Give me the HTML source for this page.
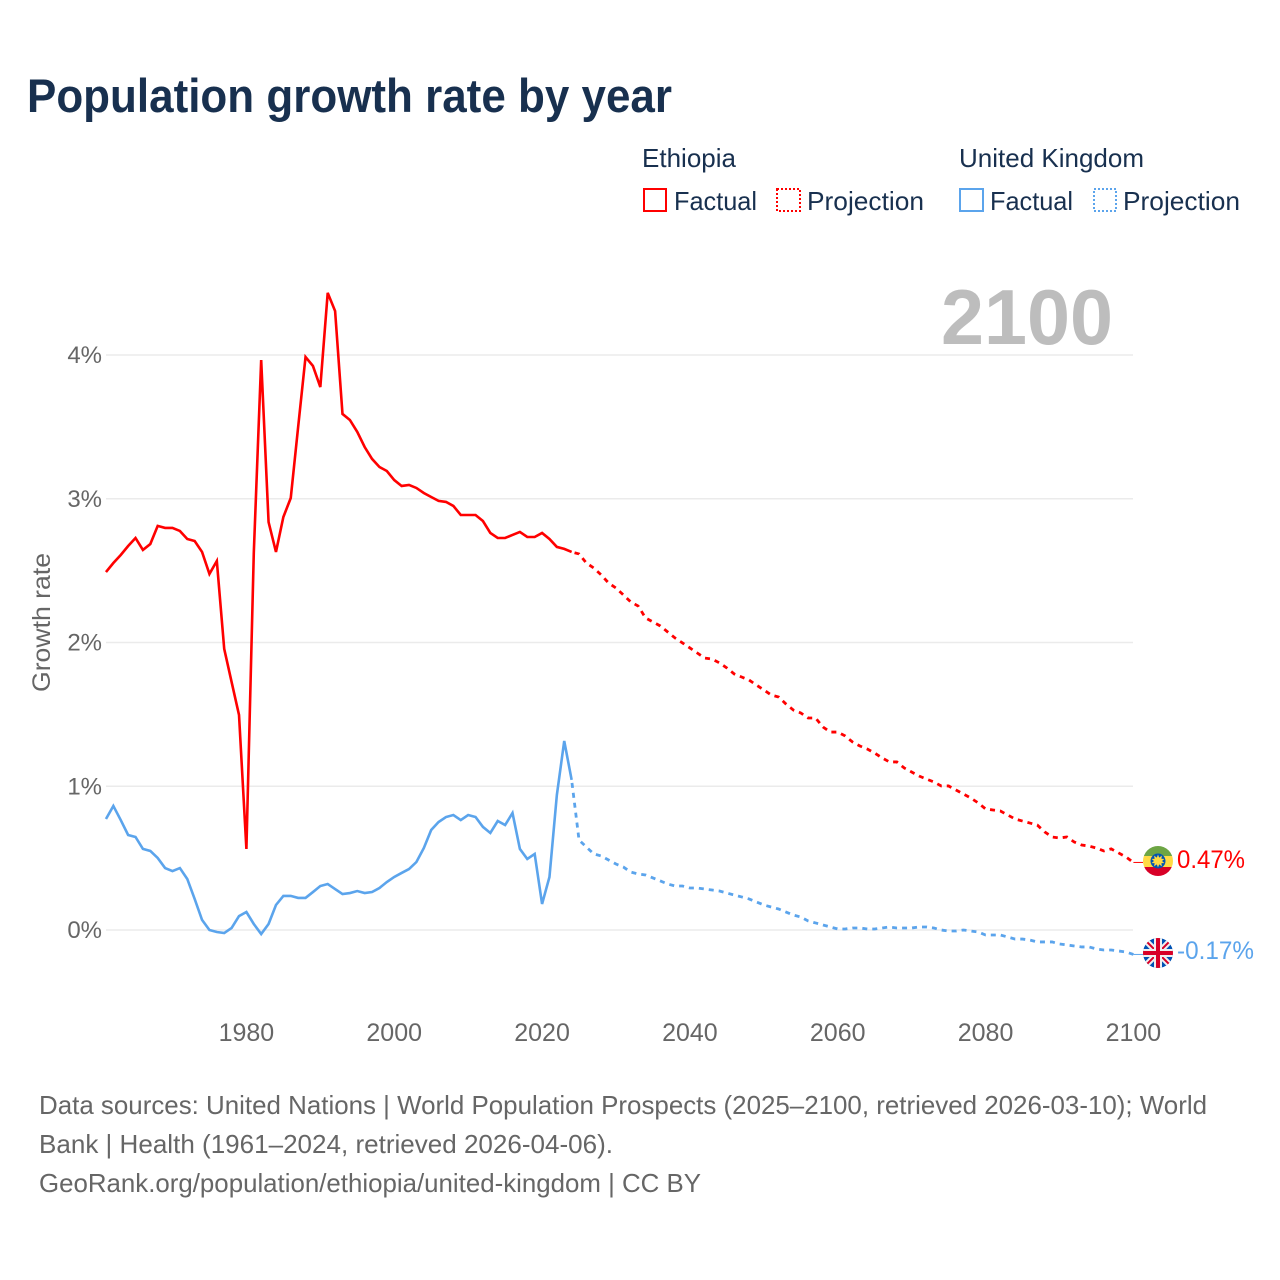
<!DOCTYPE html>
<html lang="en">
<head>
<meta charset="utf-8">
<title>Population growth rate by year</title>
<style>
html,body{margin:0;padding:0;background:#fff;width:1280px;height:1280px;overflow:hidden}
svg{display:block}
text{font-family:"Liberation Sans",sans-serif}
</style>
</head>
<body>
<svg id="chart" xmlns="http://www.w3.org/2000/svg" width="1280" height="1280" viewBox="0 0 1280 1280">
  <rect x="0" y="0" width="1280" height="1280" fill="#fff"/>
  <text x="27" y="112" font-size="47" font-weight="700" fill="#18304f" textLength="645" lengthAdjust="spacingAndGlyphs">Population growth rate by year</text>

  <g font-size="26" fill="#18304f">
    <text x="642" y="167" textLength="94" lengthAdjust="spacingAndGlyphs">Ethiopia</text>
    <rect x="644" y="189" width="22" height="22" fill="none" stroke="#ff0000" stroke-width="2"/>
    <text x="674" y="210" textLength="83" lengthAdjust="spacingAndGlyphs">Factual</text>
    <rect x="777" y="189" width="23" height="22" fill="none" stroke="#ff0000" stroke-width="2" stroke-dasharray="2 2"/>
    <text x="807" y="210" textLength="117" lengthAdjust="spacingAndGlyphs">Projection</text>
    <text x="959" y="167" textLength="185" lengthAdjust="spacingAndGlyphs">United Kingdom</text>
    <rect x="960" y="189" width="23" height="22" fill="none" stroke="#5ba4ec" stroke-width="2"/>
    <text x="990" y="210" textLength="83" lengthAdjust="spacingAndGlyphs">Factual</text>
    <rect x="1094" y="189" width="22" height="22" fill="none" stroke="#5ba4ec" stroke-width="2" stroke-dasharray="2 2"/>
    <text x="1123" y="210" textLength="117" lengthAdjust="spacingAndGlyphs">Projection</text>
  </g>

  <g id="grid"></g>
  <g id="ytick-labels"></g>
  <g id="xtick-labels"></g>
  <text transform="translate(50,692) rotate(-90)" font-size="25" fill="#666" textLength="139" lengthAdjust="spacingAndGlyphs">Growth rate</text>

  <text x="941" y="344" font-size="78" font-weight="700" fill="#bdbdbd" textLength="172" lengthAdjust="spacingAndGlyphs">2100</text>

  <g id="series"></g>

  <defs>
    <clipPath id="clip-et"><circle cx="1158" cy="861" r="15"/></clipPath>
    <clipPath id="clip-uk"><circle cx="1158" cy="953" r="15"/></clipPath>
  </defs>

  <g clip-path="url(#clip-et)">
    <rect x="1143" y="846" width="30" height="10" fill="#6da544"/>
    <rect x="1143" y="856" width="30" height="11" fill="#ffda44"/>
    <rect x="1143" y="867" width="30" height="9" fill="#d80027"/>
    <circle cx="1158" cy="861" r="7.5" fill="#0052b4"/>
    <polygon points="1158,854.5 1159.2,857.6 1161.9,855.6 1161.4,858.9 1164.5,858.9 1162,861 1164.5,863.1 1161.4,863.1 1161.9,866.4 1159.2,864.4 1158,867.5 1156.8,864.4 1154.1,866.4 1154.6,863.1 1151.5,863.1 1154,861 1151.5,858.9 1154.6,858.9 1154.1,855.6 1156.8,857.6" fill="#ffda44"/>
  </g>
  <g clip-path="url(#clip-uk)">
    <rect x="1143" y="938" width="30" height="30" fill="#0052b4"/>
    <path d="M1143 938L1173 968M1173 938L1143 968" stroke="#f0f0f0" stroke-width="6"/>
    <path d="M1143 938L1173 968M1173 938L1143 968" stroke="#d80027" stroke-width="2"/>
    <rect x="1143" y="949" width="30" height="8" fill="#f0f0f0"/>
    <rect x="1154" y="938" width="8" height="30" fill="#f0f0f0"/>
    <rect x="1143" y="951" width="30" height="4" fill="#d80027"/>
    <rect x="1156" y="938" width="4" height="30" fill="#d80027"/>
  </g>

  <text x="1177" y="868" font-size="25" fill="#ff0000" textLength="68" lengthAdjust="spacingAndGlyphs">0.47%</text>
  <text x="1177" y="959" font-size="25" fill="#5ba4ec" textLength="77" lengthAdjust="spacingAndGlyphs">-0.17%</text>

  <g font-size="26" fill="#666">
    <text x="39" y="1114" textLength="1168" lengthAdjust="spacingAndGlyphs">Data sources: United Nations | World Population Prospects (2025–2100, retrieved 2026-03-10); World</text>
    <text x="39" y="1153" textLength="574" lengthAdjust="spacingAndGlyphs">Bank | Health (1961–2024, retrieved 2026-04-06).</text>
    <text x="39" y="1192" textLength="662" lengthAdjust="spacingAndGlyphs">GeoRank.org/population/ethiopia/united-kingdom | CC BY</text>
  </g>
</svg>
<script>
var firstYear = 1961;
var lastFactualYear = 2024;
var yTicks = [0, 1, 2, 3, 4];
var xTicks = [1980, 2000, 2020, 2040, 2060, 2080, 2100];

var ethiopiaFactual = [
2.49,2.553,2.609,2.671,2.727,2.644,2.685,2.811,2.797,2.797,
2.776,2.72,2.706,2.63,2.477,2.567,1.955,1.725,1.496,0.564,
2.623,3.965,2.838,2.63,2.873,3.005,3.499,3.986,3.924,3.777,
4.432,4.306,3.59,3.548,3.465,3.36,3.277,3.221,3.193,3.13,
3.089,3.096,3.075,3.04,3.012,2.985,2.978,2.95,2.887,2.887,
2.887,2.845,2.762,2.727,2.727,2.748,2.769,2.734,2.734,2.762,
2.72,2.665,2.651,2.63];

var ethiopiaProjection = [
2.616,2.553,2.518,2.47,2.414,2.379,2.331,2.282,2.254,2.171,
2.143,2.115,2.073,2.031,1.997,1.962,1.927,1.892,1.885,1.858,
1.823,1.781,1.76,1.739,1.704,1.67,1.635,1.621,1.572,1.53,
1.51,1.475,1.475,1.412,1.377,1.377,1.35,1.308,1.28,1.259,
1.231,1.197,1.169,1.169,1.127,1.099,1.071,1.05,1.03,1.002,
1.002,0.974,0.946,0.918,0.884,0.842,0.835,0.828,0.8,0.772,
0.758,0.744,0.73,0.682,0.647,0.64,0.647,0.612,0.591,0.584,
0.57,0.55,0.564,0.536,0.508,0.47];

var ukFactual = [
0.772,0.863,0.765,0.661,0.647,0.564,0.55,0.501,0.431,0.41,
0.431,0.355,0.216,0.07,0,-0.014,-0.021,0.014,0.097,0.125,
0.042,-0.028,0.042,0.174,0.237,0.237,0.223,0.223,0.264,0.306,
0.32,0.285,0.25,0.257,0.271,0.257,0.264,0.292,0.334,0.369,
0.397,0.424,0.473,0.57,0.696,0.751,0.786,0.8,0.765,0.8,
0.786,0.717,0.675,0.758,0.73,0.814,0.564,0.494,0.529,0.181,
0.369,0.939,1.315,1.044];

var ukProjection = [
0.626,0.577,0.529,0.515,0.487,0.459,0.438,0.403,0.39,0.383,
0.362,0.341,0.32,0.306,0.306,0.292,0.292,0.285,0.278,0.271,
0.257,0.243,0.23,0.216,0.195,0.174,0.16,0.146,0.125,0.104,
0.09,0.063,0.049,0.035,0.021,0.007,0.007,0.014,0.014,0.007,
0.007,0.014,0.021,0.014,0.014,0.014,0.021,0.021,0.014,0,
-0.007,-0.007,0,-0.007,-0.014,-0.035,-0.035,-0.035,-0.049,-0.063,
-0.063,-0.07,-0.083,-0.083,-0.083,-0.097,-0.104,-0.111,-0.118,-0.118,
-0.132,-0.139,-0.139,-0.146,-0.153,-0.17];

var NS = 'http://www.w3.org/2000/svg';
function xScale(year) { return 246.4 + (year - 1980) * (1133.4 - 246.4) / 120; }
function yScale(pct) { return 930 - pct * 143.75; }
function svgEl(tag) { return document.createElementNS(NS, tag); }

var gridGroup = document.getElementById('grid');
var yLabelGroup = document.getElementById('ytick-labels');
var xLabelGroup = document.getElementById('xtick-labels');
var seriesGroup = document.getElementById('series');

yTicks.forEach(function (t) {
  var line = svgEl('line');
  
  
  line.setAttribute('x1', 106);
  line.setAttribute('x2', 1133);
  line.setAttribute('y1', yScale(t));
  line.setAttribute('y2', yScale(t));
  line.setAttribute('stroke', '#ebebeb');
  line.setAttribute('stroke-width', 1.5);
  gridGroup.appendChild(line);

  var label = svgEl('text');
  
  
  label.setAttribute('x', 102);
  label.setAttribute('y', yScale(t) + 8);
  label.setAttribute('text-anchor', 'end');
  label.setAttribute('font-size', 24);
  label.setAttribute('fill', '#666');
  label.textContent = t + '%';
  yLabelGroup.appendChild(label);
});

xTicks.forEach(function (t) {
  var label = svgEl('text');
  
  
  label.setAttribute('x', xScale(t));
  label.setAttribute('y', 1041);
  label.setAttribute('text-anchor', 'middle');
  label.setAttribute('font-size', 25);
  label.setAttribute('fill', '#666');
  label.textContent = t;
  xLabelGroup.appendChild(label);
});

function buildPoints(values, startYear) {
  return values.map(function (v, i) {
    return xScale(startYear + i).toFixed(2) + ',' + yScale(v).toFixed(2);
  });
}

function drawSeries(name, color, factual, projection) {
  var solid = svgEl('polyline');
  
  
  solid.setAttribute('points', buildPoints(factual, firstYear).join(' '));
  solid.setAttribute('fill', 'none');
  solid.setAttribute('stroke', color);
  solid.setAttribute('stroke-width', 2.6);
  solid.setAttribute('stroke-linejoin', 'miter');
  seriesGroup.appendChild(solid);

  var lastPoint = xScale(lastFactualYear).toFixed(2) + ',' + yScale(factual[factual.length - 1]).toFixed(2);
  var dashed = svgEl('polyline');
  
  
  dashed.setAttribute('points', lastPoint + ' ' + buildPoints(projection, lastFactualYear + 1).join(' '));
  dashed.setAttribute('fill', 'none');
  dashed.setAttribute('stroke', color);
  dashed.setAttribute('stroke-width', 2.8);
  dashed.setAttribute('stroke-dasharray', '5 5');
  dashed.setAttribute('stroke-dashoffset', '-3');
  seriesGroup.appendChild(dashed);

  var endValue = projection[projection.length - 1];
  var connector = svgEl('line');
  
  
  connector.setAttribute('x1', xScale(2100));
  connector.setAttribute('x2', 1143);
  connector.setAttribute('y1', yScale(endValue));
  connector.setAttribute('y2', yScale(endValue));
  connector.setAttribute('stroke', color);
  connector.setAttribute('stroke-width', 1);
  seriesGroup.appendChild(connector);
}

drawSeries('ethiopia', '#ff0000', ethiopiaFactual, ethiopiaProjection);
drawSeries('united-kingdom', '#5ba4ec', ukFactual, ukProjection);
</script>
</body>
</html>
